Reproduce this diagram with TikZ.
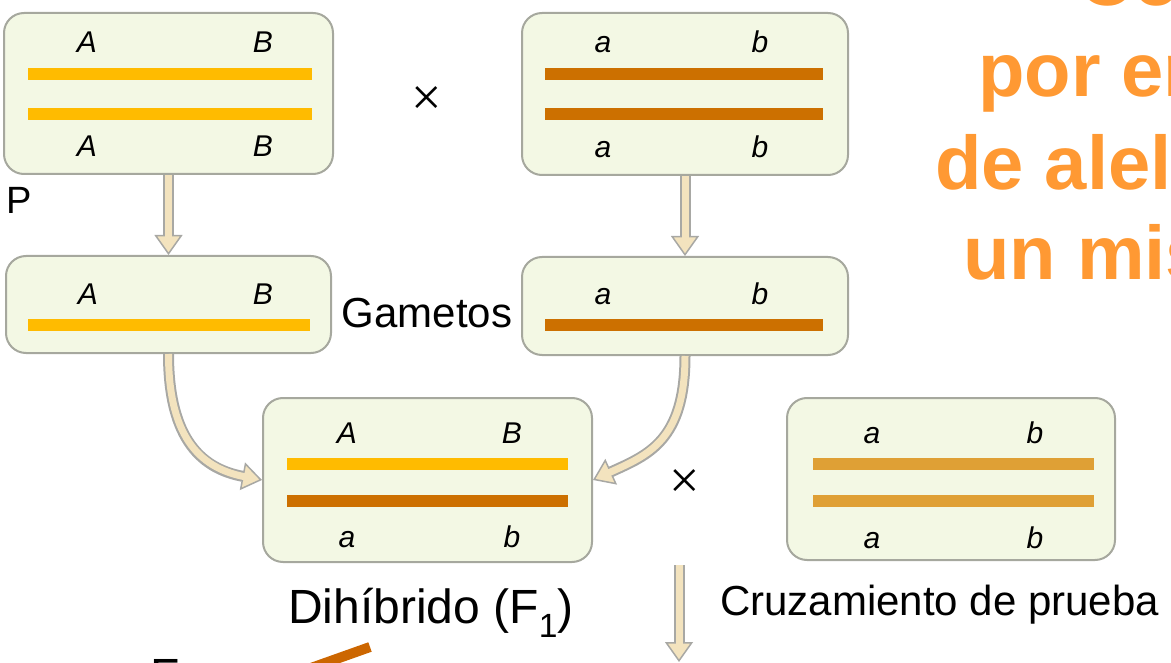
\documentclass[tikz,border=0pt]{standalone}
\usepackage{fontspec}
\setmainfont{Liberation Sans}
\newfontfamily\crossfont{Liberation Serif}
\usetikzlibrary{arrows.meta}
\definecolor{boxfill}{HTML}{F3F8E4}
\definecolor{boxedge}{HTML}{A6A89E}
\definecolor{allelA}{HTML}{FFBB00}
\definecolor{allela}{HTML}{CC7000}
\definecolor{allelt}{HTML}{DFA035}
\definecolor{arrowfill}{HTML}{F3E3BE}
\definecolor{arrowedge}{HTML}{A8A8A4}
\definecolor{headorange}{HTML}{FF9933}
\definecolor{pointer}{HTML}{CC6600}

\begin{document}
\begin{tikzpicture}[x=1pt,y=-1pt,
  chromobox/.style={draw=boxedge, line width=2pt, fill=boxfill, rounded corners=20pt, inner sep=0pt},
  chromobar/.style={line width=12pt},
  allele/.style={font=\fontsize{30}{30}\itshape\selectfont, anchor=base, inner sep=0pt},
  textlabel/.style={font=\fontsize{42}{42}\selectfont, inner sep=0pt},
  headline/.style={font=\fontsize{76}{84}\bfseries\selectfont, text=headorange, anchor=base west, inner sep=0pt},
  crossmark/.style={font=\crossfont\fontsize{54}{54}\selectfont, inner sep=0pt},
  fatarrow/.style={line width=11pt, draw=arrowedge, -{Triangle[length=20pt,width=28pt,fill=arrowfill,line width=1.5pt]}},
  fatcore/.style={line width=7pt, draw=arrowfill, shorten >=17pt},
]
\useasboundingbox (0,0) rectangle (1171,663);
\clip (0,0) rectangle (1171,663);

% heading (runs past the right edge)
\node[headline] (h1) at (1078,5.5) {Cosegregación};
\node[headline] (h2) at (978,97) {por enlace};
\node[headline] (h3) at (935,190) {de alelos en};
\node[headline] (h4) at (963,280) {un mismo cromosoma};

% parental chromosome pairs
\node[chromobox, minimum width=329pt, minimum height=161pt] (p1) at (168.5,93.5) {};
\draw[chromobar, allelA] (28,74) -- (312,74);
\draw[chromobar, allelA] (28,114) -- (312,114);
\node[allele] (p1a) at (87,53) {A};
\node[allele] (p1b) at (263,53) {B};
\node[allele] (p1c) at (87,157) {A};
\node[allele] (p1d) at (263,157) {B};

\node[chromobox, minimum width=326pt, minimum height=162pt] (p2) at (685,94) {};
\draw[chromobar, allela] (545,74) -- (823,74);
\draw[chromobar, allela] (545,114) -- (823,114);
\node[allele] (p2a) at (603,53) {a};
\node[allele] (p2b) at (760,53) {b};
\node[allele] (p2c) at (603,158) {a};
\node[allele] (p2d) at (760,158) {b};

\node[crossmark] (x1) at (427,101) {×};
\node[textlabel, font=\fontsize{38}{38}\selectfont, anchor=base west] (plab) at (6,214) {P};

% gametes
\node[chromobox, minimum width=325pt, minimum height=97pt] (g1) at (168.5,304.5) {};
\draw[chromobar, allelA] (28,325) -- (310,325);
\node[allele] (g1a) at (88,305) {A};
\node[allele] (g1b) at (263,305) {B};

\node[chromobox, minimum width=326pt, minimum height=98pt] (g2) at (685,306) {};
\draw[chromobar, allela] (545,325) -- (823,325);
\node[allele] (g2a) at (603,305) {a};
\node[allele] (g2b) at (760,305) {b};

\node[textlabel, anchor=base] (gam) at (427,327) {Gametos};

% dihybrid F1
\node[chromobox, minimum width=329pt, minimum height=164pt] (f1) at (427.5,480) {};
\draw[chromobar, allelA] (287,464) -- (568,464);
\draw[chromobar, allela] (287,501) -- (568,501);
\node[allele] (f1a) at (347,443) {A};
\node[allele] (f1b) at (512,443) {B};
\node[allele] (f1c) at (347,547) {a};
\node[allele] (f1d) at (512,547) {b};

\node[font=\fontsize{48}{48}\selectfont, anchor=base, inner sep=0pt] (dih) at (431,623) {Dihíbrido (F\textsubscript{1})};

% test-cross partner
\node[chromobox, minimum width=328pt, minimum height=162pt] (tc) at (951,479) {};
\draw[chromobar, allelt] (813,464) -- (1094,464);
\draw[chromobar, allelt] (813,501) -- (1094,501);
\node[allele] (tca) at (872,443) {a};
\node[allele] (tcb) at (1035,443) {b};
\node[allele] (tcc) at (872,548) {a};
\node[allele] (tcd) at (1035,548) {b};

\node[crossmark] (x2) at (685,484) {×};

\node[textlabel, anchor=base west] (cruz) at (720,615) {Cruzamiento de prueba};

% arrows
\draw[fatarrow] (p1.south) -- (g1.north);
\draw[fatcore] (p1.south) -- (g1.north);
\draw[fatarrow] (p2.south) -- (g2.north);
\draw[fatcore] (p2.south) -- (g2.north);

\draw[fatarrow] (g1.south) .. controls +(0,88) and +(-58,-11) .. (f1.west);
\draw[fatcore] (g1.south) .. controls +(0,88) and +(-58,-11) .. (f1.west);
\draw[fatarrow] (g2.south) .. controls +(0,85) and +(55,-25) .. (f1.east);
\draw[fatcore] (g2.south) .. controls +(0,85) and +(55,-25) .. (f1.east);

\coordinate (tcstart) at (679,565);
\coordinate (tcend) at (679,662);
\draw[fatarrow] (tcstart) -- (tcend);
\draw[fatcore] (tcstart) -- (tcend);

% next generation (below the lower edge)
\node[font=\fontsize{48}{48}\selectfont, anchor=base west, inner sep=0pt] (f2) at (150,692) {F\textsubscript{2}};
\coordinate (ptail) at (370,647);
\coordinate (phead) at (235,695);
\draw[line width=10pt, pointer, -{Triangle[length=30pt,width=40pt]}] (ptail) -- (phead);
\end{tikzpicture}
\end{document}
